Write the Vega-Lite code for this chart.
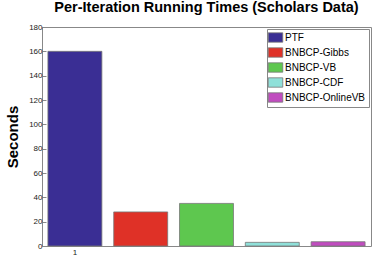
{
  "$schema": "https://vega.github.io/schema/vega-lite/v6.json",
  "autosize": "none",
  "width": 329,
  "height": 219,
  "padding": {"left": 42, "top": 27, "right": 1, "bottom": 9},
  "background": "white",
  "title": {
    "text": "Per-Iteration Running Times (Scholars Data)",
    "font": "Liberation Sans",
    "fontSize": 14.5,
    "fontWeight": "bold",
    "color": "black",
    "anchor": "middle",
    "offset": 8
  },
  "data": {
    "values": [
      {"method": "PTF", "seconds": 160},
      {"method": "BNBCP-Gibbs", "seconds": 28},
      {"method": "BNBCP-VB", "seconds": 35},
      {"method": "BNBCP-CDF", "seconds": 3},
      {"method": "BNBCP-OnlineVB", "seconds": 3.5}
    ]
  },
  "config": {
    "view": {"stroke": "#888888", "strokeWidth": 1},
    "axis": {"domainColor": "#888888", "tickColor": "#888888", "labelFont": "Liberation Sans", "labelColor": "#222222", "titleFont": "Liberation Sans"}
  },
  "mark": {"type": "bar", "stroke": "#777777", "strokeWidth": 0.8},
  "encoding": {
    "x": {
      "field": "method",
      "type": "nominal",
      "sort": ["PTF", "BNBCP-Gibbs", "BNBCP-VB", "BNBCP-CDF", "BNBCP-OnlineVB"],
      "scale": {"paddingInner": 0.18, "paddingOuter": 0.09},
      "axis": {
        "title": null,
        "values": ["PTF"],
        "labelExpr": "'1'",
        "labelAngle": 0,
        "labelFontSize": 8,
        "tickSize": -4,
        "labelPadding": 6,
        "domain": false
      }
    },
    "y": {
      "field": "seconds",
      "type": "quantitative",
      "scale": {"domain": [0, 180], "nice": false},
      "axis": {
        "title": "Seconds",
        "titleFontSize": 15,
        "titleFontWeight": "bold",
        "titleColor": "black",
        "titlePadding": 8,
        "values": [0, 20, 40, 60, 80, 100, 120, 140, 160, 180],
        "labelFontSize": 8,
        "tickSize": -4,
        "labelPadding": 4,
        "grid": false,
        "domain": false
      }
    },
    "color": {
      "field": "method",
      "type": "nominal",
      "sort": ["PTF", "BNBCP-Gibbs", "BNBCP-VB", "BNBCP-CDF", "BNBCP-OnlineVB"],
      "scale": {
        "domain": ["PTF", "BNBCP-Gibbs", "BNBCP-VB", "BNBCP-CDF", "BNBCP-OnlineVB"],
        "range": ["#3a2e94", "#df3127", "#5ec74f", "#8fe0d9", "#c04cbf"]
      },
      "legend": {
        "title": null,
        "orient": "top-right",
        "offset": 2,
        "padding": 3,
        "strokeColor": "#888888",
        "fillColor": "white",
        "labelFont": "Liberation Sans",
        "labelFontSize": 10,
        "labelColor": "black",
        "symbolType": "M-1.55,-1L1.55,-1L1.55,1L-1.55,1Z",
        "symbolSize": 88,
        "symbolStrokeColor": "#777777",
        "symbolStrokeWidth": 0.8,
        "symbolOpacity": 1,
        "rowPadding": 2,
        "labelOffset": 4
      }
    }
  }
}
